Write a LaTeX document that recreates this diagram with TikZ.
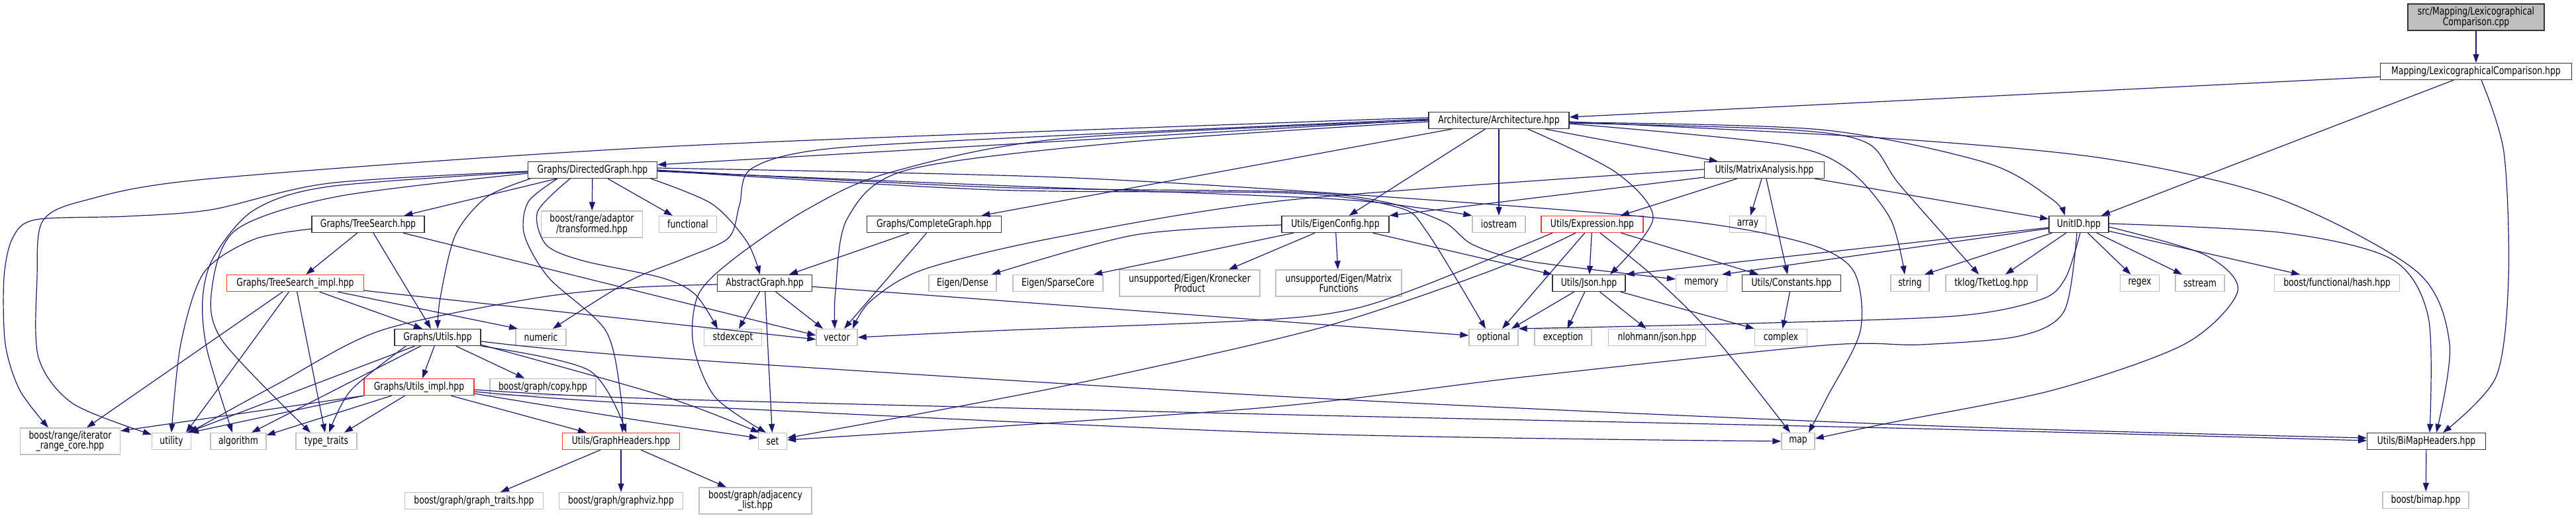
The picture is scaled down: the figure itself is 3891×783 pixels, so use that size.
\documentclass[tikz,border=0pt]{standalone}
\usepackage{fontspec}
\setmainfont{DejaVu Sans Condensed}[FakeStretch=0.86]
\usetikzlibrary{arrows.meta}
\definecolor{edgecol}{HTML}{191970}
\definecolor{sysborder}{HTML}{BFBFBF}
\definecolor{docborder}{HTML}{333333}
\definecolor{rootfill}{HTML}{BFBFBF}
\definecolor{truncred}{HTML}{FF3030}
\tikzset{
 base/.style={rectangle, inner sep=0pt, minimum height=25pt, font=\fontsize{16}{15.5}\selectfont, fill=white, line width=1.3pt},
 doc/.style={base, draw=docborder},
 sys/.style={base, draw=sysborder},
 trunc/.style={base, draw=truncred},
 rootnode/.style={base, draw=docborder, fill=rootfill},
 e/.style={draw=edgecol, line width=1.2pt, -{Triangle[length=13pt,width=9pt]}},
}
\begin{document}
\begin{tikzpicture}[x=1pt,y=-1pt]
\useasboundingbox (0,0) rectangle (3891,783);
% nodes
\node[rootnode, minimum width=206pt, minimum height=40pt, align=center] (root) at (3740,26) {src/Mapping/Lexicographical\\Comparison.cpp};
\node[doc, minimum width=289pt] (maphpp) at (3740,108) {Mapping/LexicographicalComparison.hpp};
\node[doc, minimum width=212pt] (arch) at (2264,182) {Architecture/Architecture.hpp};
\node[doc, minimum width=195pt] (dg) at (895,257) {Graphs/DirectedGraph.hpp};
\node[doc, minimum width=181pt] (matrix) at (2665,257) {Utils/MatrixAnalysis.hpp};
\node[doc, minimum width=170pt] (treesearch) at (556,339) {Graphs/TreeSearch.hpp};
\node[sys, minimum width=153pt, minimum height=40pt, align=center] (adaptor) at (894,339) {boost/range/adaptor\\/transformed.hpp};
\node[sys, minimum width=87pt] (functional) at (1039,339) {functional};
\node[doc, minimum width=203pt] (complete) at (1411,339) {Graphs/CompleteGraph.hpp};
\node[doc, minimum width=162pt] (eigencfg) at (2017,339) {Utils/EigenConfig.hpp};
\node[sys, minimum width=80pt] (iostream) at (2264,339) {iostream};
\node[trunc, minimum width=154pt] (expression) at (2405,339) {Utils/Expression.hpp};
\node[sys, minimum width=55pt] (array) at (2640,339) {array};
\node[doc, minimum width=90pt] (unitid) at (3140,339) {UnitID.hpp};
\node[trunc, minimum width=207pt] (tsimpl) at (446,428) {Graphs/TreeSearch\_impl.hpp};
\node[doc, minimum width=143pt] (abstract) at (1155,428) {AbstractGraph.hpp};
\node[sys, minimum width=102pt] (dense) at (1454,428) {Eigen/Dense};
\node[sys, minimum width=136pt] (sparse) at (1598,428) {Eigen/SparseCore};
\node[sys, minimum width=212pt, minimum height=40pt, align=center] (kron) at (1797,428) {unsupported/Eigen/Kronecker\\Product};
\node[sys, minimum width=190pt, minimum height=40pt, align=center] (matfun) at (2022,428) {unsupported/Eigen/Matrix\\Functions};
\node[doc, minimum width=110pt] (json) at (2400,428) {Utils/Json.hpp};
\node[sys, minimum width=77pt] (memory) at (2570,428) {memory};
\node[doc, minimum width=149pt] (constants) at (2706,428) {Utils/Constants.hpp};
\node[sys, minimum width=58pt] (string) at (2885,428) {string};
\node[sys, minimum width=138pt] (tklog) at (3008,428) {tklog/TketLog.hpp};
\node[sys, minimum width=59pt] (regex) at (3232,428) {regex};
\node[sys, minimum width=74pt] (sstream) at (3323,428) {sstream};
\node[sys, minimum width=189pt] (hash) at (3530,428) {boost/functional/hash.hpp};
\node[doc, minimum width=130pt] (gutils) at (661,510) {Graphs/Utils.hpp};
\node[sys, minimum width=76pt] (numeric) at (817,510) {numeric};
\node[sys, minimum width=87pt] (stdexcept) at (1107,510) {stdexcept};
\node[sys, minimum width=62pt] (vector) at (1264,510) {vector};
\node[sys, minimum width=74pt] (optional) at (2256,510) {optional};
\node[sys, minimum width=86pt] (exception) at (2361,510) {exception};
\node[sys, minimum width=147pt] (nlohmann) at (2503,510) {nlohmann/json.hpp};
\node[sys, minimum width=79pt] (complex) at (2690,510) {complex};
\node[trunc, minimum width=166pt] (utilsimpl) at (633,585) {Graphs/Utils\_impl.hpp};
\node[sys, minimum width=160pt] (copy) at (820,585) {boost/graph/copy.hpp};
\node[sys, minimum width=151pt, minimum height=40pt, align=center] (iterrange) at (106,667) {boost/range/iterator\\\_range\_core.hpp};
\node[sys, minimum width=59pt] (utility) at (259,667) {utility};
\node[sys, minimum width=84pt] (algorithm) at (360,667) {algorithm};
\node[sys, minimum width=92pt] (typetraits) at (493,667) {type\_traits};
\node[trunc, minimum width=177pt] (graphheaders) at (938,667) {Utils/GraphHeaders.hpp};
\node[sys, minimum width=43pt] (set) at (1167,667) {set};
\node[sys, minimum width=50pt] (map) at (2716,667) {map};
\node[doc, minimum width=179pt] (bimapheaders) at (3665,667) {Utils/BiMapHeaders.hpp};
\node[sys, minimum width=209pt] (graphtraits) at (716,757) {boost/graph/graph\_traits.hpp};
\node[sys, minimum width=187pt] (graphviz) at (938,757) {boost/graph/graphviz.hpp};
\node[sys, minimum width=170pt, minimum height=40pt, align=center] (adjacency) at (1141,757) {boost/graph/adjacency\\\_list.hpp};
\node[sys, minimum width=130pt] (bimap) at (3664,756) {boost/bimap.hpp};
% edges: root / mapping
\draw[e] (root) -- (maphpp);
\draw[e] ([yshift=-8pt]maphpp.west) -- ([yshift=5pt]arch.east);
\draw[e] (maphpp) -- (unitid);
\draw[e] plot[smooth] coordinates {([xshift=8pt]maphpp.south) (3782,230) (3789,420) (3770,570) ([xshift=25pt]bimapheaders.north)};
% architecture
\draw[e] ([yshift=1pt]arch.west) -- ([yshift=8pt]dg.east);
\draw[e] (arch) -- (matrix);
\draw[e] (arch) -- (complete);
\draw[e] (arch) -- (eigencfg);
\draw[e] (arch) -- (iostream);
\draw[e] plot[smooth] coordinates {([xshift=44pt]arch.south) (2440,260) (2497,330) ([xshift=32pt]json.north)};
\draw[e] plot[smooth] coordinates {([yshift=-3pt]arch.east) (2750,196) (3000,246) (3098,300) ([xshift=-21pt]unitid.north)};
\draw[e] plot[smooth] coordinates {([yshift=-5pt]arch.east) (2690,218) (2790,255) (2855,330) ([xshift=-8pt]string.north)};
\draw[e] plot[smooth] coordinates {([yshift=-4pt]arch.east) (2700,196) (2820,216) (2870,280) ([xshift=-19pt]tklog.north)};
\draw[e] plot[smooth] coordinates {([yshift=-2pt]arch.east) (2850,209) (3182,240) (3441,300) (3650,410) (3700,520) ([xshift=15pt]bimapheaders.north)};
\draw[e] plot[smooth] coordinates {([yshift=2pt]arch.west) (1600,205) (1250,225) (1135,255) (1117,310) (1100,360) (1030,392) (950,425) ([xshift=18pt]numeric.north)};
\draw[e] plot[smooth] coordinates {([yshift=0pt]arch.west) (1600,210) (1340,262) (1218,317) (1110,390) (1055,445) (1047,520) (1080,600) ([xshift=-10pt]set.north)};
\draw[e] plot[smooth] coordinates {([yshift=-2pt]arch.west) (1700,215) (1370,257) (1280,330) (1262,440) ([xshift=-3pt]vector.north)};
\draw[e] plot[smooth] coordinates {([yshift=4pt]arch.west) (1950,185) (1000,222) (319,270) (128,303) (64,335) (56,420) (58,540) (110,610) ([yshift=-3pt]utility.north west)};
% directed graph
\draw[e] (dg) -- (treesearch);
\draw[e] (dg) -- (adaptor);
\draw[e] (dg) -- (functional);
\draw[e] plot[smooth] coordinates {([xshift=-10pt]dg.south east) (1075,308) (1128,365) ([xshift=-7pt]abstract.north)};
\draw[e] plot[smooth] coordinates {([xshift=-94pt]dg.south) (735,298) (688,355) (665,450) (gutils.north)};
\draw[e] plot[smooth] coordinates {([xshift=-53pt]dg.south) (798,305) (792,355) (829,420) (915,500) (938,600) ([xshift=2pt]graphheaders.north)};
\draw[e] plot[smooth] coordinates {([xshift=-34pt]dg.south) (812,320) (825,370) (880,394) (1000,420) (1050,445) ([xshift=-23pt]stdexcept.north)};
\draw[e] plot[smooth] coordinates {([yshift=-2pt]dg.west) (497,277) (319,317) (191,327) (54,332) (19,360) (6,420) (8,520) (30,590) ([xshift=-33pt]iterrange.north)};
\draw[e] plot[smooth] coordinates {([yshift=-3pt]dg.west) (497,282) (383,318) (322,390) (306,453) (313,530) ([xshift=-9pt]algorithm.north)};
\draw[e] plot[smooth] coordinates {([yshift=-5pt]dg.west) (510,297) (357,347) (320,437) (336,515) ([xshift=-24pt]typetraits.north)};
\draw[e] plot[smooth] coordinates {([yshift=-2pt]dg.east) (1500,280) (2000,300) (2150,315) (iostream.north west)};
\draw[e] plot[smooth] coordinates {([yshift=3pt]dg.east) (1600,268) (2100,298) (2538,333) (2729,368) (2800,410) (2810,500) (2760,600) ([xshift=16pt]map.north)};
\draw[e] plot[smooth] coordinates {([yshift=0pt]dg.east) (1500,283) (1950,290) (2090,305) (2180,335) (2225,370) (2310,395) ([yshift=6pt]memory.west)};
\draw[e] plot[smooth] coordinates {([yshift=-1pt]dg.east) (1500,287) (1950,292) (2110,313) (2155,350) ([xshift=-12pt]optional.north)};
% tree search
\draw[e] (treesearch) -- (tsimpl);
\draw[e] (treesearch) -- ([xshift=-10pt]gutils.north);
\draw[e] (treesearch) -- ([yshift=3pt]vector.west);
\draw[e] plot[smooth] coordinates {([yshift=-7pt]treesearch.west) (383,362) (308,412) (273,520) (utility.north)};
% tree search impl
\draw[e] (tsimpl) -- ([xshift=-23pt]gutils.north);
\draw[e] (tsimpl) -- ([xshift=-35pt]numeric.north);
\draw[e] (tsimpl) -- ([yshift=-3pt]vector.west);
\draw[e] (tsimpl) -- ([xshift=25pt]iterrange.north);
\draw[e] (tsimpl) -- ([xshift=22pt]utility.north);
\draw[e] (tsimpl) -- ([xshift=-2pt]typetraits.north);
% graphs utils
\draw[e] (gutils) -- (utilsimpl);
\draw[e] (gutils) -- (copy);
\draw[e] plot[smooth] coordinates {(gutils.south east) (890,560) ([xshift=8pt]graphheaders.north)};
\draw[e] plot[smooth] coordinates {([yshift=2pt]gutils.south east) (1000,598) ([xshift=-20pt]set.north)};
\draw[e] plot[smooth] coordinates {([yshift=-6pt]gutils.east) (1000,541) (1950,600) (2900,643) ([yshift=5pt]bimapheaders.west)};
\draw[e] (gutils) -- ([xshift=24pt]utility.north);
\draw[e] (gutils) -- ([xshift=20pt]algorithm.north);
\draw[e] plot[smooth] coordinates {([xshift=-48pt]gutils.south) (530,590) ([xshift=4pt]typetraits.north)};
% utils impl
\draw[e] (utilsimpl.south west) -- ([yshift=-5pt]iterrange.north east);
\draw[e] (utilsimpl.south west) -- ([xshift=-2pt]utility.north east);
\draw[e] (utilsimpl) -- ([yshift=-4pt]algorithm.north east);
\draw[e] (utilsimpl) -- ([xshift=27pt]typetraits.north);
\draw[e] (utilsimpl) -- ([xshift=-52pt]graphheaders.north);
\draw[e] plot[smooth] coordinates {([yshift=-4pt]utilsimpl.east) (1000,603) (1950,627) (2900,648) ([yshift=1pt]bimapheaders.west)};
\draw[e] plot[smooth] coordinates {([yshift=-7pt]utilsimpl.east) (1000,612) (1950,655) (map.west)};
\draw[e] plot[smooth] coordinates {([yshift=-10pt]utilsimpl.east) (950,633) ([yshift=5pt]set.west)};
% abstract graph
\draw[e] (abstract) -- ([xshift=9pt]stdexcept.north);
\draw[e] (abstract) -- (set);
\draw[e] (abstract) -- ([xshift=-21pt]vector.north);
\draw[e] (abstract) -- ([yshift=3pt]optional.west);
\draw[e] plot[smooth] coordinates {([yshift=-2pt]abstract.west) (950,435) (800,452) (574,500) (420,580) ([xshift=27pt]utility.north)};
% complete graph
\draw[e] (complete) -- ([xshift=37pt]abstract.north);
\draw[e] (complete) -- ([xshift=11pt]vector.north);
% eigen config
\draw[e] plot[smooth] coordinates {([yshift=-1pt]eigencfg.west) (1715,355) ([xshift=44pt]dense.north)};
\draw[e] (eigencfg) -- ([xshift=54pt]sparse.north);
\draw[e] (eigencfg) -- ([xshift=59pt]kron.north);
\draw[e] (eigencfg) -- (matfun);
\draw[e] (eigencfg) -- (json.north west);
% matrix analysis
\draw[e] (matrix) -- (eigencfg.north east);
\draw[e] plot[smooth] coordinates {([yshift=1pt]matrix.west) (1950,302) (1600,358) (1396,407) (1315,455) ([xshift=24pt]vector.north)};
\draw[e] (matrix) -- ([xshift=43pt]expression.north);
\draw[e] (matrix) -- (array);
\draw[e] (matrix) -- ([xshift=-6pt]constants.north);
\draw[e] (matrix) -- ([yshift=8pt]unitid.west);
% expression
\draw[e] (expression) -- (json);
\draw[e] (expression) -- ([xshift=-50pt]constants.north);
\draw[e] plot[smooth] coordinates {([xshift=-60pt]expression.south) (2155,430) (2040,468) (1900,484) (1500,500) (vector.east)};
\draw[e] plot[smooth] coordinates {([xshift=-25pt]expression.south) (2250,410) (1989,497) (1600,585) ([yshift=5pt]set.east)};
\draw[e] (expression) -- ([xshift=13pt]optional.north);
\draw[e] plot[smooth] coordinates {([xshift=12pt]expression.south) (2500,420) (2590,510) ([xshift=-12pt]map.north)};
% json
\draw[e] (json) -- ([xshift=27pt]optional.north);
\draw[e] (json) -- (exception);
\draw[e] (json) -- (nlohmann);
\draw[e] (json) -- (complex.north west);
% constants
\draw[e] (constants) -- (complex);
% unit id
\draw[e] (unitid) -- (json.north east);
\draw[e] (unitid) -- ([xshift=31pt]memory.north);
\draw[e] (unitid) -- ([xshift=22pt]string.north);
\draw[e] (unitid) -- ([xshift=21pt]tklog.north);
\draw[e] (unitid) -- (regex);
\draw[e] (unitid) -- (sstream);
\draw[e] (unitid) -- ([xshift=-56pt]hash.north);
\draw[e] plot[smooth] coordinates {([yshift=1pt]unitid.east) (3450,352) (3613,392) (3668,480) ([xshift=5pt]bimapheaders.north)};
\draw[e] plot[smooth] coordinates {([yshift=-4pt]unitid.east) (3330,385) (3380,440) (3300,520) (3100,590) (2850,640) ([yshift=4pt]map.east)};
\draw[e] plot[smooth] coordinates {([xshift=2pt]unitid.south) (3120,420) (3082,453) (2950,478) (2600,490) (optional.north east)};
\draw[e] plot[smooth] coordinates {([xshift=-3pt]unitid.south) (3118,470) (3050,508) (2900,521) (2755,522) (2300,570) (1900,617) ([yshift=2pt]set.east)};
% graph headers
\draw[e] (graphheaders) -- ([xshift=40pt]graphtraits.north);
\draw[e] (graphheaders) -- (graphviz);
\draw[e] (graphheaders) -- ([xshift=-44pt]adjacency.north);
% bimap headers
\draw[e] (bimapheaders) -- (bimap);
\end{tikzpicture}
\end{document}
